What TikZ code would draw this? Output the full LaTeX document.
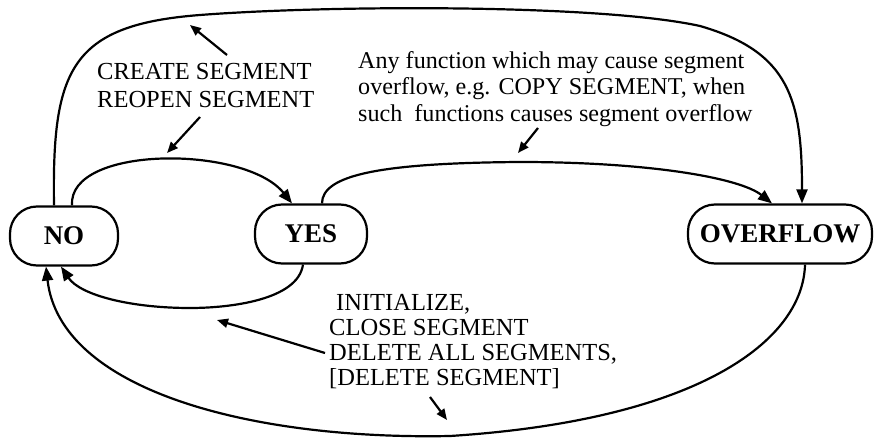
\documentclass[tikz,border=0pt]{standalone}
\usepackage{fontspec}
\setmainfont{Liberation Serif}
\usetikzlibrary{arrows.meta,positioning}

\tikzset{
  state/.style={draw, line width=2.2pt, rounded corners=27pt, minimum height=59pt, inner sep=0pt, font=\fontsize{27}{30}\selectfont\bfseries},
  trans/.style={line width=2.2pt, -{Triangle[length=14pt,width=11pt]}},
  ptr/.style={line width=2.2pt, -{Triangle[length=11pt,width=9pt]}},
  lbl/.style={inner sep=0pt, align=left, anchor=north west, font=\fontsize{24.5}{28}\selectfont},
}

\begin{document}
\begin{tikzpicture}[x=1pt, y=-1pt]
  \useasboundingbox (0,0) rectangle (874,438);
  % States
  \node[state, minimum width=108pt] (no) at (64,236) {NO};
  \node[state, minimum width=112pt] (yes) at (311,234) {YES};
  \node[state, minimum width=184pt] (ovf) at (780,234) {OVERFLOW};

  % Edges
  \draw[trans] ([xshift=-10pt]no.north) .. controls (52,70) and (70,25) .. (200,15) .. controls (330,5) and (600,4) .. (700,26) .. controls (790,52) and (802,100) .. ([xshift=22pt]ovf.north);
  \draw[trans] ([xshift=8pt]no.north) .. controls (68,145) and (245,145) .. ([xshift=-19pt]yes.north);
  \draw[trans] ([xshift=11pt]yes.north) .. controls (322,175) and (380,163) .. (520,162) .. controls (650,162) and (740,178) .. ([xshift=-8pt]ovf.north);
  \draw[trans] ([xshift=-8pt]yes.south) .. controls (298,300) and (230,308) .. (190,308) .. controls (130,308) and (80,295) .. ([xshift=-3pt]no.south);
  \draw[trans] ([xshift=25pt]ovf.south) .. controls (803,340) and (700,420) .. (450,436) .. controls (250,440) and (60,390) .. ([xshift=-18pt]no.south);

  % Labels
  \node[lbl] (create) at (97,63) {CREATE SEGMENT\\REOPEN SEGMENT};
  \node[lbl, font=\fontsize{24.1}{26.5}\selectfont] (anyfn) at (358,51)
    {Any function which may cause segment\\overflow, e.g. COPY SEGMENT, when\\such\ \ functions causes segment overflow};
  \node[lbl, font=\fontsize{24.5}{25}\selectfont] (init) at (329,294)
    {\hspace{7pt}INITIALIZE,\\CLOSE SEGMENT\\DELETE ALL SEGMENTS,\\{}[DELETE SEGMENT]};

  % Pointers
  \coordinate (toploop) at (190,25);
  \coordinate (leftloop) at (167,153);
  \coordinate (midloop) at (518,153);
  \coordinate (lowloop) at (217,320);
  \coordinate (botloop) at (447,420);
  \draw[ptr] ([shift={(130,-8)}]create.north west) -- (toploop);
  \draw[ptr] ([shift={(103,54)}]create.north west) -- (leftloop);
  \draw[ptr] ([shift={(180,77)}]anyfn.north west) -- (midloop);
  \draw[ptr] ([shift={(-4,59)}]init.north west) -- (lowloop);
  \draw[ptr] ([shift={(101,103)}]init.north west) -- (botloop);
\end{tikzpicture}
\end{document}
